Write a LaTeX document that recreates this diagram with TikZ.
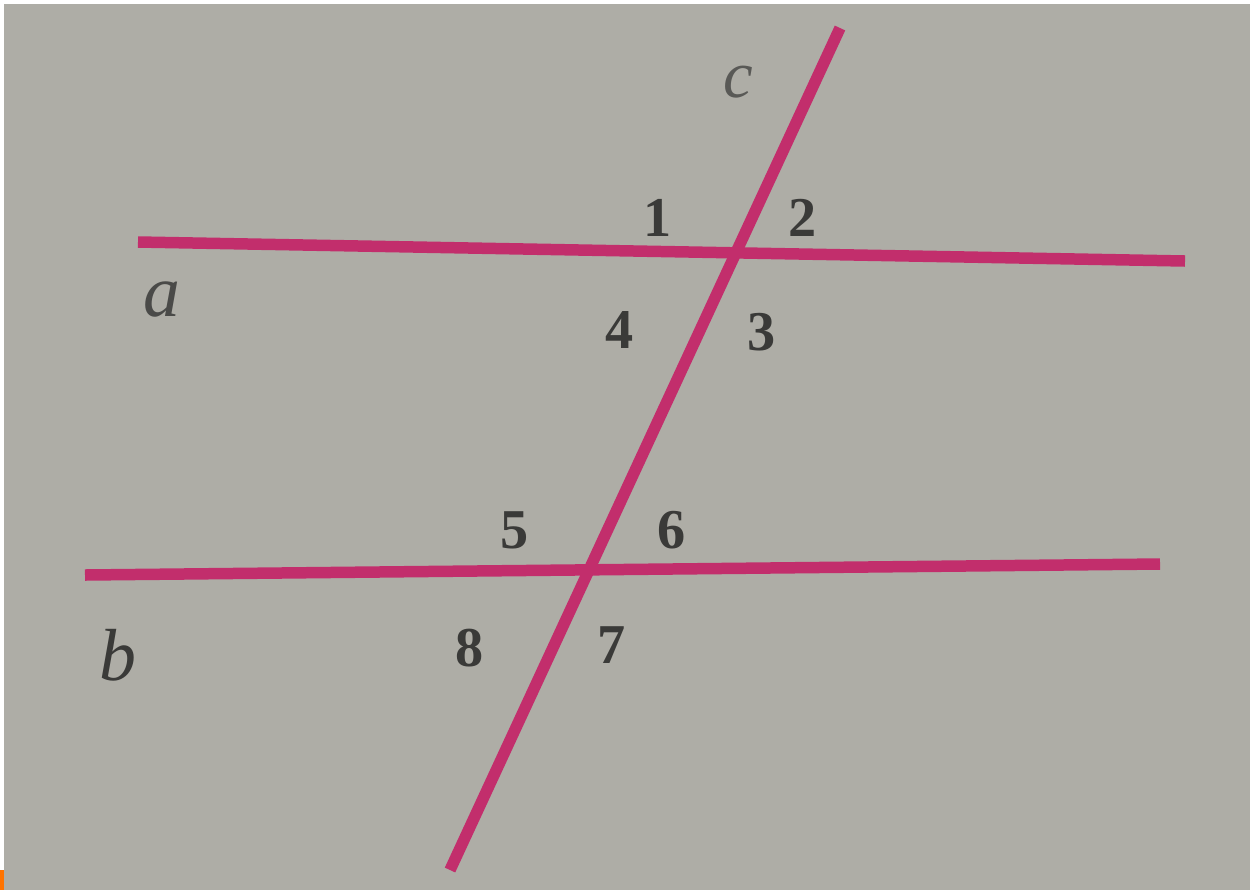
\documentclass[tikz,border=0pt]{standalone}
\usepackage{fontspec}
\setmainfont{Liberation Serif}
\begin{document}
\begin{tikzpicture}[x=0.02cm,y=-0.02cm,
  ln/.style={line width=0.23cm,draw=lncol},
  num/.style={text=numcol,font=\fontsize{32}{32}\selectfont\bfseries,inner sep=0pt},
  let/.style={text=letcol,font=\fontsize{42}{42}\selectfont\itshape,inner sep=0pt}]
\definecolor{bg}{HTML}{AEADA6}
\definecolor{lncol}{HTML}{C22E6C}
\definecolor{numcol}{HTML}{3A3A38}
\definecolor{letcol}{HTML}{4A4A48}
\useasboundingbox (0,0) rectangle (1250,890);
\fill[white] (0,0) rectangle (1250,890);
\fill[bg] (4,4) rectangle (1250,890);
\fill[orange!90!red] (0,870) rectangle (4,890);
\coordinate (a1) at (138,242);
\coordinate (a2) at (1185,261);
\coordinate (b1) at (85,575);
\coordinate (b2) at (1160,564);
\coordinate (c1) at (840,28);
\coordinate (c2) at (450,870);
\draw[ln] (a1) -- (a2);
\draw[ln] (b1) -- (b2);
\draw[ln] (c1) -- (c2);
\node[let,text=letcol!85!bg,font=\fontsize{38}{38}\selectfont\itshape] (lc) at (738,82) {c};
\node[let] (la) at (162,300) {a};
\node[let,text=numcol] (lb) at (118,655) {b};
\node[num] (n1) at (658,218) {1};
\node[num] (n2) at (803,218) {2};
\node[num] (n3) at (762,332) {3};
\node[num] (n4) at (620,330) {4};
\node[num] (n5) at (515,530) {5};
\node[num] (n6) at (672,530) {6};
\node[num] (n7) at (612,645) {7};
\node[num] (n8) at (470,648) {8};
\end{tikzpicture}
\end{document}
